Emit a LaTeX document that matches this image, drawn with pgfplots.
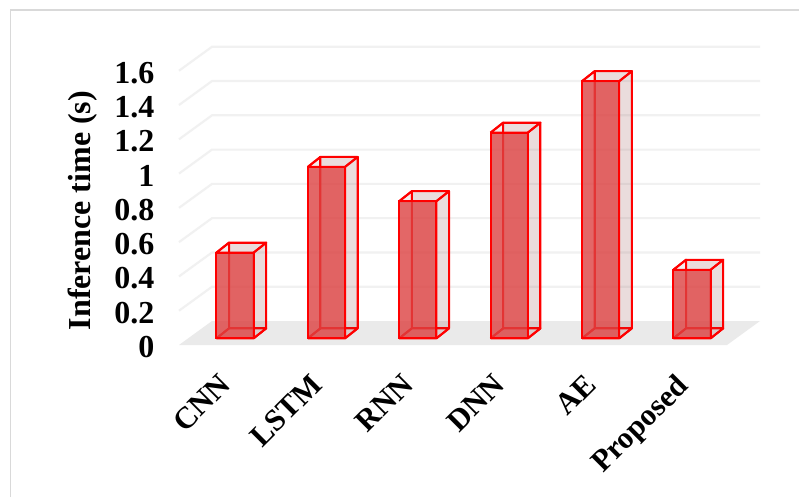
\documentclass[border=0pt]{standalone}
\usepackage{pgfplots}
\usepackage{pgfplotstable}
\usepackage{fontspec}
\setmainfont{Liberation Serif}
\pgfplotsset{compat=1.18}

\pgfplotstableread{
idx time
0   0.5
1   1.0
2   0.8
3   1.2
4   1.5
5   0.4
}\bardata

\definecolor{framegray}{HTML}{D9D9D9}
\definecolor{gridgray}{HTML}{F1F1F1}
\definecolor{floorgray}{HTML}{EAEAEA}
\definecolor{frontfill}{HTML}{DD4141}
\definecolor{sidefill}{HTML}{8A3A3A}

% half width and depth of a box, in data units
\def\hw{0.2035}
\def\dpx{0.138}
\def\dpy{0.0583}

% rear faces and edges of one box; the front face comes from the table plot
\newcommand{\boxrear}[2]{%
  \pgfmathsetmacro{\xl}{#1-\hw}%
  \pgfmathsetmacro{\xr}{#1+\hw}%
  \pgfmathsetmacro{\xlb}{#1-\hw+\dpx}%
  \pgfmathsetmacro{\xrb}{#1+\hw+\dpx}%
  \pgfmathsetmacro{\yt}{#2}%
  \pgfmathsetmacro{\ytb}{#2+\dpy}%
  \edef\cmd{%
    \noexpand\addplot[boxface] coordinates {(\xlb,\dpy) (\xrb,\dpy) (\xrb,\ytb) (\xlb,\ytb) (\xlb,\dpy)};
    \noexpand\addplot[boxface] coordinates {(\xl,0) (\xr,0) (\xrb,\dpy) (\xlb,\dpy) (\xl,0)};
    \noexpand\addplot[boxface] coordinates {(\xr,0) (\xrb,\dpy) (\xrb,\ytb) (\xr,\yt) (\xr,0)};
    \noexpand\addplot[boxface] coordinates {(\xl,\yt) (\xr,\yt) (\xrb,\ytb) (\xlb,\ytb) (\xl,\yt)};
    \noexpand\addplot[boxedge] coordinates {(\xl,0) (\xlb,\dpy) (\xlb,\ytb) (\xl,\yt)};
  }\cmd
}

\begin{document}
\begin{tikzpicture}
  \useasboundingbox (0,0) rectangle (599.25pt,372.75pt);
  \fill[white] (0,0) rectangle (599.25pt,372.75pt);
  % chart area frame
  \draw[framegray,line width=1.1pt] (8pt,0pt) -- (8pt,365.3pt) -- (599.25pt,365.3pt);

  \begin{axis}[
    at={(134.25pt,114pt)}, anchor=south west,
    scale only axis,
    width=435.75pt, height=223.7pt,
    xmin=-0.613, xmax=5.744,
    ymin=0, ymax=1.74,
    clip=false,
    axis line style={draw=none},
    major tick length=0pt,
    xtick={0,1,2,3,4,5},
    xticklabels={CNN,LSTM,RNN,DNN,AE,Proposed},
    ytick={0,0.2,0.4,0.6,0.8,1,1.2,1.4,1.6},
    /pgf/number format/assume math mode=true,
    yticklabel style={font=\fontsize{24}{24}\selectfont\bfseries, xshift=-15pt, yshift=-1.5pt},
    xticklabel style={font=\fontsize{23}{23}\selectfont\bfseries, rotate=45, anchor=north east, yshift=-1.8pt, xshift=-20.1pt},
    ylabel={Inference time (s)},
    ylabel style={font=\fontsize{24}{24}\selectfont\bfseries, at={(axis description cs:0,0.5)}, anchor=center, xshift=-11pt, yshift=72.5pt},
    boxface/.style={draw=red, line width=1.5pt, fill=sidefill, fill opacity=0.09, line join=round, yshift=5pt},
    boxedge/.style={draw=red, line width=1.5pt, line join=round, yshift=5pt},
  ]
    % floor and back wall
    \addplot[fill=floorgray, draw=none] coordinates {(-0.613,0) (5.383,0) (5.744,0.14) (-0.2516,0.14) (-0.613,0)};
    \pgfplotsinvokeforeach{0.2,0.4,0.6,0.8,1,1.2,1.4,1.6}{
      \pgfmathsetmacro{\gy}{#1+0.14}
      \edef\cmd{\noexpand\addplot[gridgray, line width=1.6pt] coordinates {(-0.613,#1) (-0.2516,\gy) (5.744,\gy)};}
      \cmd
    }
    % rear parts of the boxes
    \pgfplotsforeachungrouped \i in {0,1,2,3,4,5}{
      \pgfplotstablegetelem{\i}{time}\of\bardata
      \let\val\pgfplotsretval
      \boxrear{\i}{\val}
    }
    % front faces
    \addplot[ybar, bar width=27.9pt, bar shift=0pt, yshift=5pt,
             draw=red, line width=1.5pt, fill=frontfill, fill opacity=0.8]
      table[x=idx, y=time] {\bardata};
  \end{axis}
\end{tikzpicture}
\end{document}
